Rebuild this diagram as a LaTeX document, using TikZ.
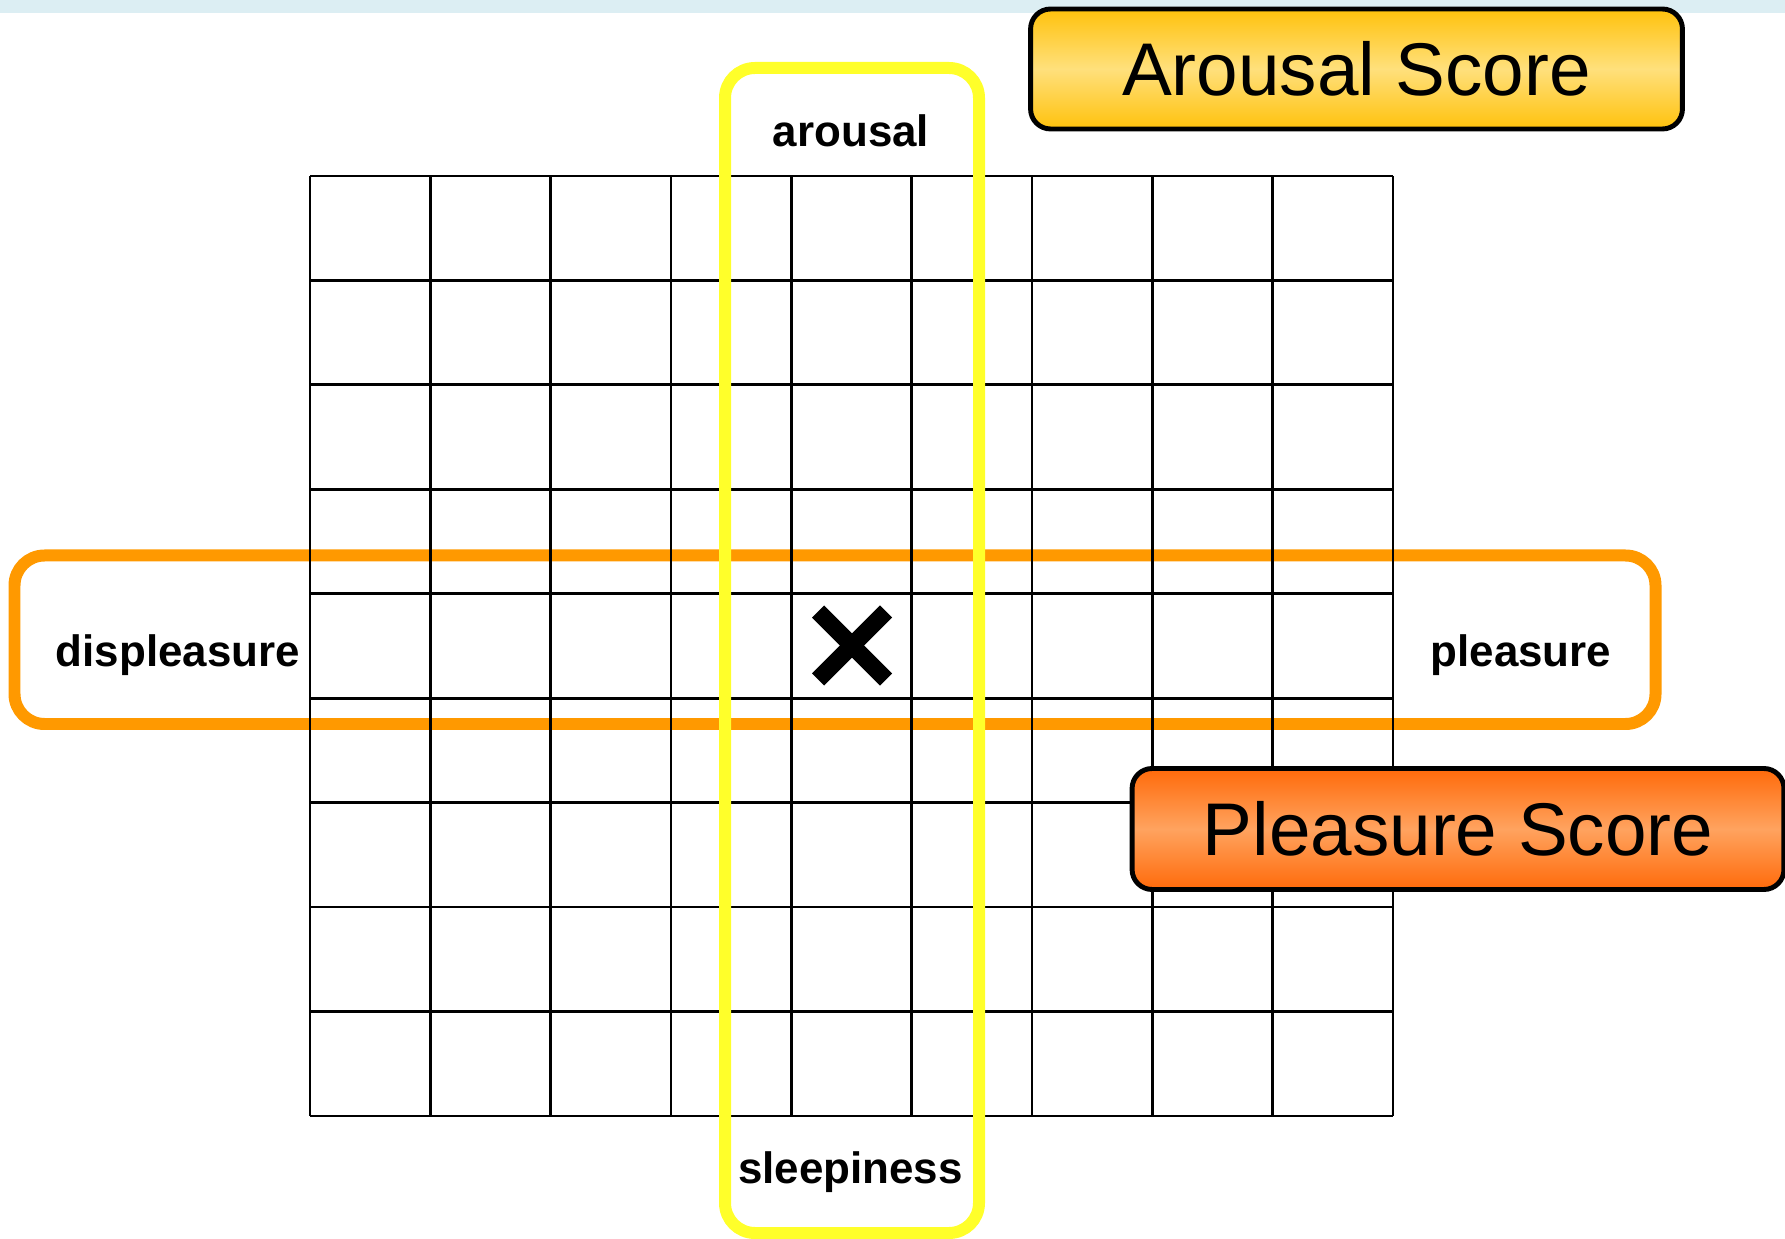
\documentclass[tikz,border=0pt]{standalone}
\usepackage{fontspec}
\setmainfont{Liberation Sans}

\definecolor{stripblue}{HTML}{DCEEF3}
\definecolor{bandorange}{HTML}{FF9900}
\definecolor{bandyellow}{HTML}{FFFF2A}
\definecolor{arousaltop}{HTML}{FFC20C}
\definecolor{arousalmid}{HTML}{FFE07C}
\definecolor{pleasuretop}{HTML}{FF6A0A}
\definecolor{pleasuremid}{HTML}{FFA35F}

\begin{document}
\begin{tikzpicture}[
			x=0.02cm, y=-0.02cm,
			gridline/.style={line width=1.6pt},
			band/.style={line width=0.24cm, rounded corners=0.6cm},
			axislabel/.style={anchor=base, inner sep=0pt, font=\fontsize{25}{30}\selectfont\bfseries},
			scorebox/.style={draw=black, line width=2.8pt, rounded corners=0.4cm, inner sep=0pt,
				font=\fontsize{42.5}{50}\selectfont},
			xstroke/.style={line width=0.34cm, line join=round}
			]
			\useasboundingbox (0,0) rectangle (1785,1239);
			\fill[stripblue] (0,0) rectangle (1785,13);
			
			% pleasure band
			\draw[band, bandorange] (14.5,555.5) rectangle (1655.5,724);
			
			% grid 9 x 9
			\foreach \i in {0,...,9} {
				\draw[gridline] (310+120.33*\i,176) -- (310+120.33*\i,1116);
				\draw[gridline] (310,176+104.44*\i) -- (1393,176+104.44*\i);
			}
			
			% arousal band
			\draw[band, bandyellow] (725,68) rectangle (979,1233);
			
			\node[axislabel] (arousal) at (851,147) {arousal};
			\node[axislabel] (sleepiness) at (850.5,1183) {sleepiness};
			\node[axislabel] (displeasure) at (178,667) {displeasure};
			\node[axislabel] (pleasure) at (1521,667) {pleasure};
			
			% mark
			\coordinate (mark) at (852,645.5);
			\draw[xstroke] (mark) ++(-34,-34) -- ++(68,68);
			\draw[xstroke] (mark) ++(34,-34) -- ++(-68,68);
			
			\node[scorebox, top color=arousaltop, bottom color=arousaltop, middle color=arousalmid,
				minimum width=13.04cm, minimum height=2.4cm] (arousalbox) at (1356.5,69) {Arousal Score};
			
			\node[scorebox, top color=pleasuretop, bottom color=pleasuretop, middle color=pleasuremid,
				minimum width=13.04cm, minimum height=2.42cm] (pleasurebox) at (1458,829) {Pleasure Score};
		\end{tikzpicture}
\end{document}
